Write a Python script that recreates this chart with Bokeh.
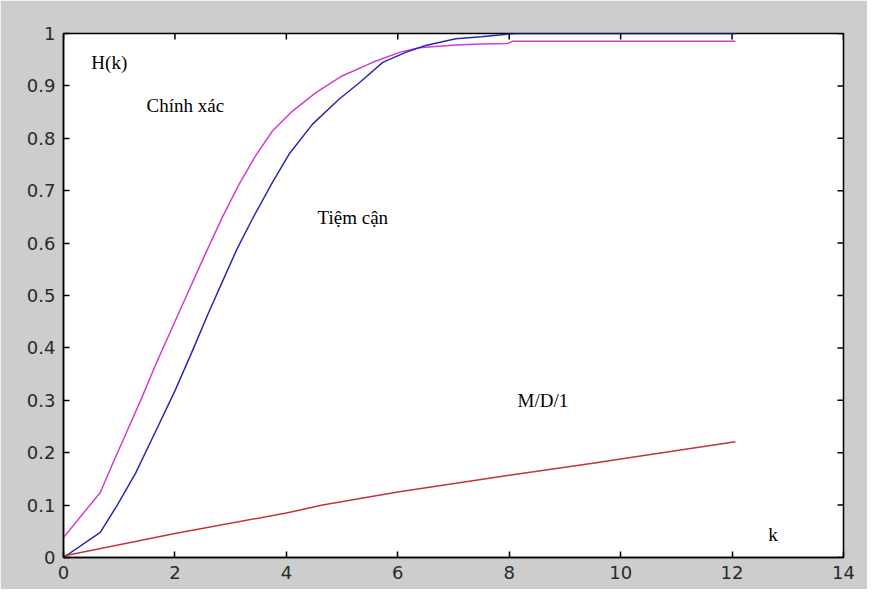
import math
from bokeh.plotting import figure
from bokeh.models import FixedTicker, Label
from bokeh.embed import file_html
from bokeh.resources import INLINE

# ---- data ----
k_exact = [0, 0.66, 0.87, 1.14, 1.41, 1.67, 1.94, 2.21, 2.54, 2.85, 3.15, 3.45, 3.75, 4.11, 4.53,
           5.0, 5.55, 6.03, 6.38, 7.04, 7.5, 7.97, 8.05, 12.06]
h_exact = [0.038, 0.124, 0.176, 0.241, 0.306, 0.372, 0.436, 0.5, 0.578, 0.649, 0.712, 0.767, 0.814, 0.852, 0.887,
           0.919, 0.945, 0.964, 0.973, 0.978, 0.980, 0.981, 0.985, 0.985]

k_asym = [0, 0.66, 0.96, 1.29, 1.65, 2.0, 2.3, 2.6, 2.9, 3.12, 3.39, 3.75, 4.05, 4.47, 4.95,
          5.31, 5.73, 6.14, 6.5, 7.04, 7.5, 7.82, 8.1, 12.06]
h_asym = [0, 0.048, 0.099, 0.16, 0.24, 0.318, 0.391, 0.466, 0.538, 0.59, 0.646, 0.716, 0.77, 0.827, 0.875,
          0.906, 0.945, 0.964, 0.977, 0.99, 0.994, 0.997, 1.0, 1.0]

k_md1 = [0, 2, 4, 4.65, 6, 8, 9.5, 10, 12.06]
h_md1 = [0.003, 0.046, 0.085, 0.1, 0.125, 0.157, 0.18, 0.188, 0.221]

x_ticks = [0, 2, 4, 6, 8, 10, 12, 14]
y_ticks = [0, 0.1, 0.2, 0.3, 0.4, 0.5, 0.6, 0.7, 0.8, 0.9, 1]
y_tick_labels = ["0", "0.1", "0.2", "0.3", "0.4", "0.5", "0.6", "0.7", "0.8", "0.9", "1"]

labels = ["H(k)", "Chính xác", "Tiệm cận", "M/D/1", "k"]

# ---- figure ----
x_lo, x_hi, y_lo, y_hi = 0, 14, 0, 1
p = figure(width=867, height=589, x_range=(x_lo, x_hi), y_range=(y_lo, y_hi),
           output_backend="svg", toolbar_location=None,
           background_fill_color="white", border_fill_color="#cdcdcd",
           min_border_left=63, min_border_right=24, min_border_top=33, min_border_bottom=32)
p.grid.visible = False
p.outline_line_color = "black"
p.outline_line_width = 1.5

for ax in (p.xaxis[0], p.yaxis[0]):
    ax.major_tick_in = 6
    ax.major_tick_out = 0
    ax.minor_tick_line_color = None
    ax.axis_line_color = "black"
    ax.axis_line_width = 1.5
    ax.major_tick_line_color = "black"
    ax.major_tick_line_width = 1.5
    ax.major_label_text_font = "DejaVu Sans"
    ax.major_label_text_font_size = "18px"
    ax.major_label_text_color = "#2a2a2a"
    ax.major_label_standoff = 8
p.xaxis[0].ticker = FixedTicker(ticks=x_ticks)
p.yaxis[0].ticker = FixedTicker(ticks=y_ticks)
p.yaxis[0].major_label_overrides = {t: s for t, s in zip(y_ticks, y_tick_labels)}

# inward ticks on the top and right edges of the box
p.ray(x=x_ticks, y=[y_hi] * len(x_ticks), length=6, length_units="screen",
      angle=-math.pi / 2, line_color="black", line_width=1.5)
p.ray(x=[x_hi] * len(y_ticks), y=y_ticks, length=6, length_units="screen",
      angle=math.pi, line_color="black", line_width=1.5)

p.line(k_exact, h_exact, line_color="#d23cd2", line_width=1.5)
p.line(k_asym, h_asym, line_color="#2828b4", line_width=1.5)
p.line(k_md1, h_md1, line_color="#c0343c", line_width=1.5)

label_pos = [(0.50, 0.945), (1.49, 0.863), (4.56, 0.648), (8.15, 0.300), (12.65, 0.0445)]
for txt, (lx, ly) in zip(labels, label_pos):
    p.add_layout(Label(x=lx, y=ly, text=txt, text_font="Liberation Serif",
                       text_font_size="19px", text_color="black",
                       text_baseline="alphabetic", text_align="left"))

open("out.html", "w").write(file_html(p, INLINE))
